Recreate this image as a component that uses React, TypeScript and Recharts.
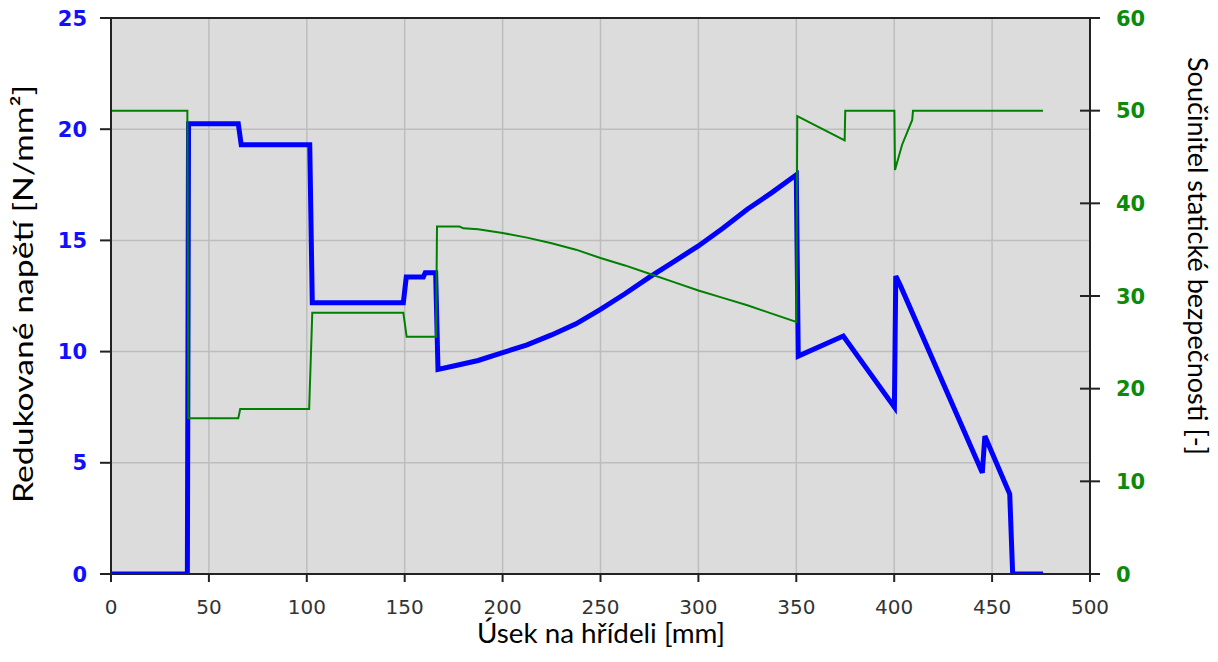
import React from 'react';
import { LineChart, Line, XAxis, YAxis, CartesianGrid, ReferenceLine, Label } from 'recharts';

// Axis ticks
const xTicks = [0, 50, 100, 150, 200, 250, 300, 350, 400, 450, 500];
const leftTicks = [0, 5, 10, 15, 20, 25];
const rightTicks = [0, 10, 20, 30, 40, 50, 60];

// Redukované napětí [N/mm²] (left axis)
const stressX = [0, 39, 39.6, 65, 66.5, 101.5, 102.8, 149.3, 150.8, 159.5, 160.5, 165.8, 167, 175, 187.5, 200, 212.5, 225, 237.5, 250, 262.5, 275, 287.5, 300, 312.5, 325, 337.5, 350, 351, 374, 400.1, 400.8, 403, 445, 446.3, 459, 460.5, 476];
const stressY = [0, 0, 20.25, 20.25, 19.3, 19.3, 12.2, 12.2, 13.35, 13.35, 13.55, 13.55, 9.2, 9.35, 9.6, 9.95, 10.3, 10.75, 11.25, 11.9, 12.6, 13.35, 14.05, 14.75, 15.55, 16.4, 17.15, 17.95, 9.8, 10.7, 7.5, 13.4, 13.0, 4.55, 6.2, 3.6, 0, 0];

// Součinitel statické bezpečnosti [-] (right axis)
const safetyX = [0, 39, 39.5, 65, 66, 101.2, 102.8, 149.3, 151, 166, 166.5, 178, 180, 187.5, 200, 212.5, 225, 237.5, 250, 262.5, 275, 287.5, 300, 312.5, 325, 337.5, 350, 350.5, 374.7, 375, 400.1, 400.4, 404, 409.2, 409.6, 476];
const safetyY = [50, 50, 16.8, 16.8, 17.8, 17.8, 28.2, 28.2, 25.6, 25.6, 37.5, 37.5, 37.3, 37.2, 36.8, 36.3, 35.7, 35.0, 34.1, 33.3, 32.4, 31.5, 30.6, 29.8, 29.0, 28.1, 27.2, 49.4, 46.8, 50, 50, 43.6, 46.3, 49.0, 50, 50];

const stressData = stressX.map((x, i) => ({ x, v: stressY[i] }));
const safetyData = safetyX.map((x, i) => ({ x, v: safetyY[i] }));

const BLUE = '#0000ff';
const GREEN = '#008000';
const AXIS = '#222222';
const TICK_FONT = '"DejaVu Sans", Verdana, sans-serif';
const TITLE_FONT = 'Lato, "Open Sans", sans-serif';

const RightTick = (props: any) => {
  const { x, y, payload } = props;
  const ax = x - 26;
  return (
    <g>
      <line x1={ax - 10} x2={ax + 10} y1={y} y2={y} stroke={AXIS} strokeWidth={2} />
      <text x={x} y={y} dy="0.36em" textAnchor="start" fill="#0b8a0b" fontFamily={TICK_FONT} fontWeight="bold" fontSize={21}>
        {payload.value}
      </text>
    </g>
  );
};

const LeftTick = (props: any) => {
  const { x, y, payload } = props;
  return (
    <text x={x} y={y} dy="0.36em" textAnchor="end" fill="#1010ff" fontFamily={TICK_FONT} fontWeight="bold" fontSize={21}>
      {payload.value}
    </text>
  );
};

const BottomTick = (props: any) => {
  const { x, y, payload } = props;
  return (
    <text x={x} y={y} dy="0.75em" textAnchor="middle" fill="#333333" fontFamily={TICK_FONT} fontSize={20}>
      {payload.value}
    </text>
  );
};

export default function App() {
  return (
    <div style={{ position: 'absolute', left: 0, top: 0, width: 1218, height: 662, background: '#ffffff' }}>
      <LineChart
        width={1218}
        height={662}
        margin={{ top: 18, right: 58, bottom: 48, left: 51 }}
      >
        <CartesianGrid yAxisId="left" fill="#dcdcdc" stroke="#bdbdbd" strokeWidth={1.5} />
        <XAxis
          type="number"
          dataKey="x"
          domain={[0, 500]}
          ticks={xTicks}
          allowDataOverflow
          height={40}
          stroke={AXIS}
          strokeWidth={2}
          tickSize={8}
          tickMargin={17}
          tick={BottomTick}
        >
          <Label
            content={() => (
              <text x={601} y={643} textAnchor="middle" fill="#000" fontFamily={TITLE_FONT} fontSize={26} textLength={248} lengthAdjust="spacingAndGlyphs">
                Úsek na hřídeli [mm]
              </text>
            )}
          />
        </XAxis>
        <YAxis
          yAxisId="left"
          orientation="left"
          domain={[0, 25]}
          ticks={leftTicks}
          allowDataOverflow
          width={60}
          stroke={AXIS}
          strokeWidth={2}
          tickSize={11}
          tickMargin={13}
          tick={LeftTick}
        >
          <Label
            content={() => (
              <text x={33} y={294} transform="rotate(-90 33 294)" textAnchor="middle" fill="#000" fontFamily={TITLE_FONT} fontSize={27} textLength={418} lengthAdjust="spacingAndGlyphs">
                Redukované napětí [N/mm²]
              </text>
            )}
          />
        </YAxis>
        <YAxis
          yAxisId="right"
          orientation="right"
          domain={[0, 60]}
          ticks={rightTicks}
          allowDataOverflow
          width={70}
          stroke={AXIS}
          strokeWidth={2}
          tickSize={10}
          tickMargin={16}
          tickLine={false}
          tick={RightTick}
        >
          <Label
            content={() => (
              <text x={1188} y={57} transform="rotate(90 1188 57)" textAnchor="start" fill="#000" fontFamily={TITLE_FONT} fontSize={26} textLength={398} lengthAdjust="spacingAndGlyphs">
                Součinitel statické bezpečnosti [-]
              </text>
            )}
          />
        </YAxis>
        <ReferenceLine yAxisId="left" y={25} stroke={AXIS} strokeWidth={2} />
        <Line
          yAxisId="left"
          data={stressData}
          dataKey="v"
          type="linear"
          stroke={BLUE}
          strokeWidth={5}
          dot={false}
          activeDot={false}
          isAnimationActive={false}
        />
        <Line
          yAxisId="right"
          data={safetyData}
          dataKey="v"
          type="linear"
          stroke={GREEN}
          strokeWidth={2}
          dot={false}
          activeDot={false}
          isAnimationActive={false}
        />
      </LineChart>
    </div>
  );
}
